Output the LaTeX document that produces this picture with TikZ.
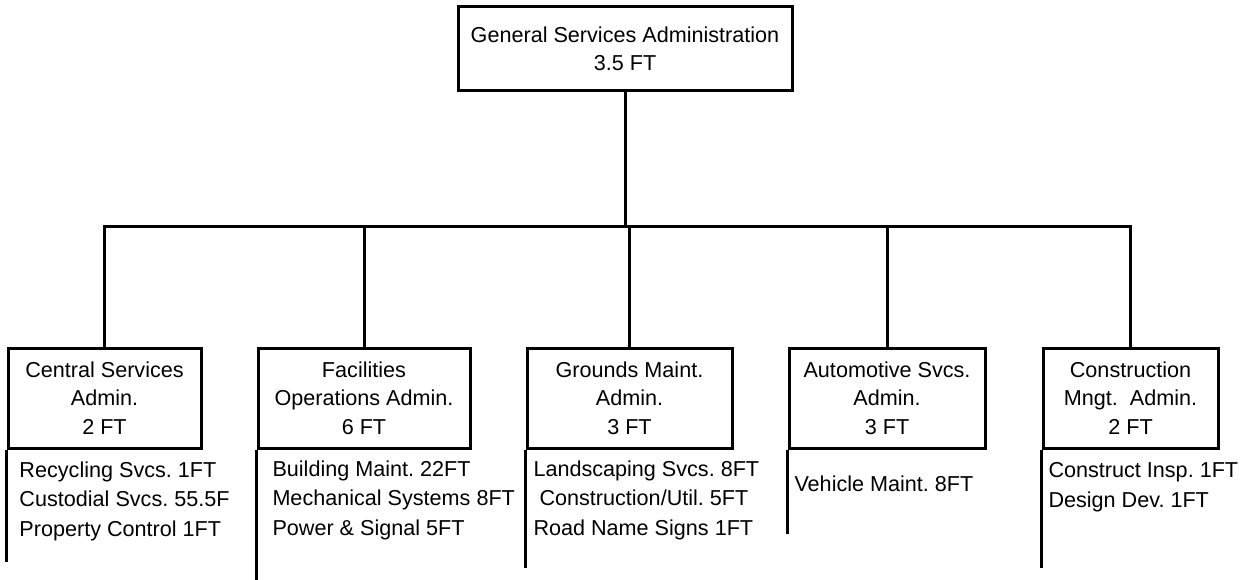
\documentclass[tikz,border=0pt]{standalone}
\usepackage{fontspec}
\setmainfont{Liberation Sans}
\frenchspacing
\begin{document}
\begin{tikzpicture}[x=1pt,y=-1pt,
  line width=3pt,
  orgbox/.style={draw, rectangle, minimum height=100pt, inner sep=0pt,
    align=center, font=\fontsize{21.6}{28.5}\selectfont},
  toplist/.style={anchor=west, inner sep=0pt, align=left,
    font=\fontsize{21.6}{29.5}\selectfont},
  wire/.style={draw, line cap=rect}]
\useasboundingbox (0,0) rectangle (1246,580);

% head office
\node[orgbox, minimum width=334pt, minimum height=84pt] (gsa) at (625,49)
  {General Services Administration\\3.5 FT};

% divisions
\node[orgbox, minimum width=193pt] (csa) at (104.5,398) {Central Services\\Admin.\\2 FT};
\node[orgbox, minimum width=212pt] (foa) at (364,398) {Facilities\\Operations Admin.\\6 FT};
\node[orgbox, minimum width=205pt] (gma) at (629.5,398) {Grounds Maint.\\Admin.\\3 FT};
\node[orgbox, minimum width=196pt] (asa) at (887,398) {Automotive Svcs.\\Admin.\\3 FT};
\node[orgbox, minimum width=175pt] (cma) at (1130.5,398) {Construction\\Mngt.\ \ Admin.\\2 FT};

% units under each division
\node[toplist] (csaunits) at (18,501) {Recycling Svcs. 1FT\\Custodial Svcs. 55.5F\\Property Control 1FT};
\node[toplist] (foaunits) at (271,500) {Building Maint. 22FT\\Mechanical Systems 8FT\\Power \& Signal 5FT};
\node[toplist] (gmaunits) at (532,500) {Landscaping Svcs. 8FT\\\hspace*{6pt}Construction/Util. 5FT\\Road Name Signs 1FT};
\node[toplist] (asaunits) at (793,484) {Vehicle Maint. 8FT};
\node[toplist] (cmaunits) at (1047,487) {Construct Insp. 1FT\\Design Dev. 1FT};

% bus level and ends of the unit rails
\coordinate (bus) at (0,226);
\coordinate (csaend) at (0,562);
\coordinate (foaend) at (0,580);
\coordinate (gmaend) at (0,568);
\coordinate (asaend) at (0,534);
\coordinate (cmaend) at (0,568);

% connectors
\draw (gsa.south) -- (gsa.south |- bus);
\draw[wire] (csa.north |- bus) -- (cma.north |- bus);
\foreach \d in {csa,foa,gma,asa,cma}{
  \draw (\d.north) -- (\d.north |- bus);
  \draw (\d.south west) -- (\d.south west |- \d end);
}
\end{tikzpicture}
\end{document}
